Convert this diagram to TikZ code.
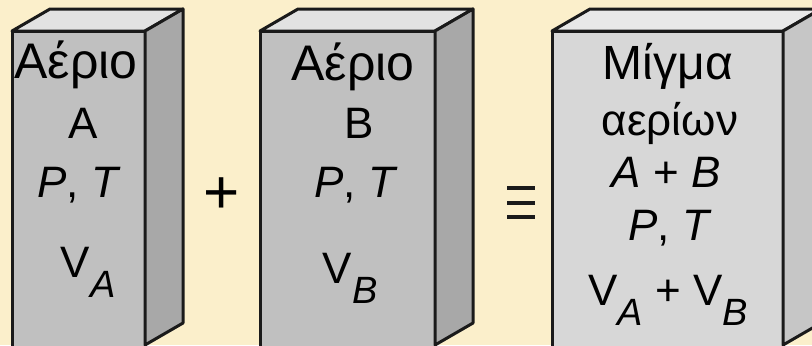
\documentclass[tikz,border=0pt]{standalone}
\usepackage{fontspec}
\setmainfont{Liberation Sans}
\usetikzlibrary{positioning}
\definecolor{parchment}{HTML}{FBEFCB}
\definecolor{edgeblack}{HTML}{1A1A1A}
\definecolor{frontgray}{HTML}{C0C0C0}
\definecolor{sidegray}{HTML}{A8A8A8}
\definecolor{topgray}{HTML}{E2E2E2}
\definecolor{mixfront}{HTML}{D7D7D7}
\definecolor{mixside}{HTML}{C6C6C6}
\definecolor{mixtop}{HTML}{E8E8E8}

% cuboid: left x, right x, front, side, top colour
\newcommand{\gasbox}[5]{%
  \filldraw[boxedge, fill=#3] (#1,31) rectangle (#2,350);
  \filldraw[boxedge, fill=#5] (#1,31) -- (#1+38,9) -- (#2+38,9) -- (#2,31) -- cycle;
  \filldraw[boxedge, fill=#4] (#2,31) -- (#2+38,9) -- (#2+38,323) -- (#2,345) -- cycle;
}
\newcommand{\subv}[1]{V\raisebox{-10pt}{\fontsize{19}{19}\selectfont\itshape #1}}

\begin{document}
\begin{tikzpicture}[x=0.5pt, y=-0.5pt,
  boxedge/.style={draw=edgeblack, line width=1.5pt, line join=round},
  boxtext/.style={anchor=base, inner sep=0pt, font=\fontsize{22}{26}\selectfont},
  bigword/.style={boxtext, font=\fontsize{25}{28}\selectfont},
  eqbar/.style={draw=edgeblack, line width=2pt}]
\useasboundingbox (0,0) rectangle (812,345);
\clip (0,0) rectangle (812,345);
\fill[parchment] (0,0) rectangle (812,345);

% the three vessels
\gasbox{12}{145}{frontgray}{sidegray}{topgray}
\gasbox{260}{435}{frontgray}{sidegray}{topgray}
\gasbox{552}{783}{mixfront}{mixside}{mixtop}

% gas A
\node[bigword] (a1) at (76,78) {Αέριο};
\node[boxtext] (a2) at (83,138) {A};
\node[boxtext] (a3) at (79,197) {\textit{P}, \textit{T}};
\node[boxtext] (a4) at (88,277) {\subv{A}};

% gas B
\node[bigword] (b1) at (353,80) {Αέριο};
\node[boxtext] (b2) at (359,138) {B};
\node[boxtext] (b3) at (356,197) {\textit{P}, \textit{T}};
\node[boxtext] (b4) at (350,283) {\subv{B}};

% mixture
\node[boxtext, font=\fontsize{24}{28}\selectfont] (m1) at (668,79) {Μίγμα};
\node[boxtext] (m2) at (670,135) {αερίων};
\node[boxtext] (m3) at (666,187) {\textit{A} + \textit{B}};
\node[boxtext] (m4) at (670,240) {\textit{P}, \textit{T}};
\node[boxtext] (m5) at (668,305) {\subv{A} + \subv{B}};

% operators
\node[font=\fontsize{31}{31}\selectfont, inner sep=0pt] (plus) at (222,196) {+};
\coordinate (eq) at (521,203);
\draw[eqbar] (eq) ++(-14,-15) -- ++(28,0);
\draw[eqbar] (eq) ++(-14,0) -- ++(28,0);
\draw[eqbar] (eq) ++(-14,14) -- ++(28,0);
\end{tikzpicture}
\end{document}
